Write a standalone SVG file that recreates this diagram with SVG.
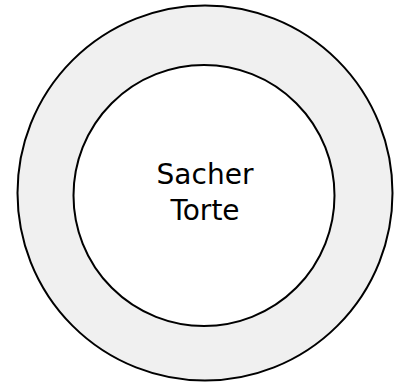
<svg xmlns="http://www.w3.org/2000/svg" width="401" height="385" viewBox="0 0 401 385">
<style>
.ring{stroke:#000;stroke-width:2}
.lbl{font-family:"DejaVu Sans",sans-serif;font-size:28px;fill:#000;text-anchor:middle}
</style>
<rect width="401" height="385" fill="#fff"/>
<g id="outer">
<circle class="ring" cx="205" cy="193" r="187.5" fill="#f0f0f0"/>
</g>
<g id="inner">
<circle class="ring" cx="204" cy="195.5" r="130.5" fill="#fff"/>
<text class="lbl" x="205" y="184">Sacher</text>
<text class="lbl" x="205" y="220">Torte</text>
</g>
</svg>
